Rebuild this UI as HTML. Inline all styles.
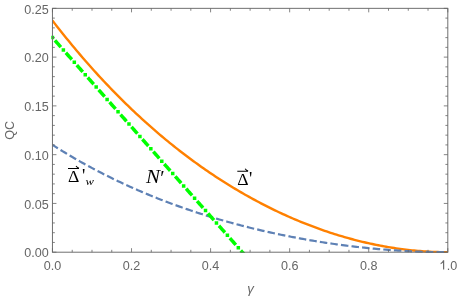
<!DOCTYPE html>
<html><head><meta charset="utf-8"><style>
html,body{margin:0;padding:0;background:#fff;}
svg{display:block;will-change:transform;}
text{font-family:"Liberation Sans",sans-serif;font-size:13.2px;fill:#666;}
.s{font-family:"Liberation Serif",serif;font-size:18.7px;fill:#000;}
</style></head><body>
<svg width="458" height="298" viewBox="0 0 458 298">
<rect width="458" height="298" fill="#fff"/>
<defs><clipPath id="c"><rect x="52.45" y="8.35" width="395.35" height="244.65"/></clipPath><clipPath id="c2"><rect x="51.25" y="8.35" width="397.35" height="244.65"/></clipPath></defs>
<g clip-path="url(#c)" fill="none">
<path d="M52.45,20.54 L54.44,23.12 L56.42,25.67 L58.41,28.21 L60.40,30.73 L62.38,33.22 L64.37,35.70 L66.36,38.16 L68.34,40.61 L70.33,43.03 L72.32,45.43 L74.30,47.82 L76.29,50.19 L78.28,52.54 L80.26,54.87 L82.25,57.19 L84.24,59.48 L86.22,61.76 L88.21,64.02 L90.20,66.27 L92.18,68.49 L94.17,70.70 L96.16,72.90 L98.14,75.07 L100.13,77.23 L102.12,79.37 L104.10,81.50 L106.09,83.60 L108.08,85.70 L110.06,87.77 L112.05,89.83 L114.04,91.87 L116.02,93.90 L118.01,95.91 L120.00,97.90 L121.98,99.88 L123.97,101.84 L125.96,103.79 L127.94,105.72 L129.93,107.64 L131.92,109.54 L133.90,111.42 L135.89,113.29 L137.88,115.14 L139.86,116.98 L141.85,118.81 L143.84,120.62 L145.82,122.41 L147.81,124.19 L149.80,125.95 L151.78,127.70 L153.77,129.44 L155.76,131.16 L157.74,132.87 L159.73,134.56 L161.72,136.24 L163.70,137.90 L165.69,139.55 L167.68,141.18 L169.66,142.81 L171.65,144.41 L173.64,146.01 L175.62,147.59 L177.61,149.15 L179.60,150.70 L181.58,152.24 L183.57,153.77 L185.56,155.28 L187.54,156.78 L189.53,158.27 L191.52,159.74 L193.50,161.20 L195.49,162.64 L197.48,164.07 L199.46,165.49 L201.45,166.90 L203.44,168.29 L205.42,169.68 L207.41,171.04 L209.40,172.40 L211.38,173.74 L213.37,175.07 L215.36,176.39 L217.34,177.70 L219.33,178.99 L221.32,180.27 L223.30,181.54 L225.29,182.79 L227.28,184.04 L229.26,185.27 L231.25,186.49 L233.24,187.69 L235.22,188.89 L237.21,190.07 L239.20,191.24 L241.18,192.40 L243.17,193.55 L245.16,194.68 L247.14,195.81 L249.13,196.92 L251.12,198.02 L253.11,199.11 L255.09,200.18 L257.08,201.25 L259.07,202.30 L261.05,203.35 L263.04,204.38 L265.03,205.40 L267.01,206.40 L269.00,207.40 L270.99,208.38 L272.97,209.36 L274.96,210.32 L276.95,211.27 L278.93,212.21 L280.92,213.14 L282.91,214.06 L284.89,214.96 L286.88,215.86 L288.87,216.74 L290.85,217.61 L292.84,218.48 L294.83,219.33 L296.81,220.17 L298.80,220.99 L300.79,221.81 L302.77,222.62 L304.76,223.42 L306.75,224.20 L308.73,224.97 L310.72,225.74 L312.71,226.49 L314.69,227.23 L316.68,227.96 L318.67,228.68 L320.65,229.39 L322.64,230.09 L324.63,230.77 L326.61,231.45 L328.60,232.12 L330.59,232.77 L332.57,233.42 L334.56,234.05 L336.55,234.67 L338.53,235.28 L340.52,235.88 L342.51,236.47 L344.49,237.05 L346.48,237.62 L348.47,238.18 L350.45,238.73 L352.44,239.26 L354.43,239.79 L356.41,240.31 L358.40,240.81 L360.39,241.30 L362.37,241.79 L364.36,242.26 L366.35,242.72 L368.33,243.17 L370.32,243.61 L372.31,244.04 L374.29,244.46 L376.28,244.87 L378.27,245.26 L380.25,245.65 L382.24,246.02 L384.23,246.39 L386.21,246.74 L388.20,247.08 L390.19,247.42 L392.17,247.74 L394.16,248.05 L396.15,248.34 L398.13,248.63 L400.12,248.91 L402.11,249.18 L404.09,249.43 L406.08,249.67 L408.07,249.91 L410.05,250.13 L412.04,250.34 L414.03,250.54 L416.01,250.73 L418.00,250.90 L419.99,251.07 L421.97,251.22 L423.96,251.37 L425.95,251.50 L427.93,251.62 L429.92,251.73 L431.91,251.83 L433.89,251.92 L435.88,251.99 L437.87,252.05 L439.85,252.11 L441.84,252.15 L443.83,252.18 L445.81,252.19 L447.80,252.20" stroke="#ff8000" stroke-width="2.4"/>
<path d="M52.45,144.91 L54.44,146.17 L56.42,147.42 L58.41,148.66 L60.40,149.89 L62.38,151.10 L64.37,152.31 L66.36,153.51 L68.34,154.69 L70.33,155.87 L72.32,157.04 L74.30,158.19 L76.29,159.33 L78.28,160.47 L80.26,161.59 L82.25,162.71 L84.24,163.81 L86.22,164.91 L88.21,165.99 L90.20,167.07 L92.18,168.14 L94.17,169.19 L96.16,170.24 L98.14,171.28 L100.13,172.31 L102.12,173.32 L104.10,174.33 L106.09,175.34 L108.08,176.33 L110.06,177.31 L112.05,178.28 L114.04,179.25 L116.02,180.21 L118.01,181.16 L120.00,182.09 L121.98,183.03 L123.97,183.95 L125.96,184.86 L127.94,185.77 L129.93,186.67 L131.92,187.55 L133.90,188.44 L135.89,189.31 L137.88,190.17 L139.86,191.03 L141.85,191.88 L143.84,192.72 L145.82,193.55 L147.81,194.38 L149.80,195.20 L151.78,196.01 L153.77,196.81 L155.76,197.61 L157.74,198.40 L159.73,199.18 L161.72,199.95 L163.70,200.72 L165.69,201.48 L167.68,202.23 L169.66,202.97 L171.65,203.71 L173.64,204.44 L175.62,205.17 L177.61,205.88 L179.60,206.59 L181.58,207.30 L183.57,207.99 L185.56,208.68 L187.54,209.37 L189.53,210.04 L191.52,210.71 L193.50,211.38 L195.49,212.03 L197.48,212.68 L199.46,213.33 L201.45,213.96 L203.44,214.60 L205.42,215.22 L207.41,215.84 L209.40,216.45 L211.38,217.06 L213.37,217.66 L215.36,218.26 L217.34,218.84 L219.33,219.43 L221.32,220.00 L223.30,220.58 L225.29,221.14 L227.28,221.70 L229.26,222.25 L231.25,222.80 L233.24,223.34 L235.22,223.88 L237.21,224.41 L239.20,224.93 L241.18,225.45 L243.17,225.97 L245.16,226.48 L247.14,226.98 L249.13,227.48 L251.12,227.97 L253.11,228.46 L255.09,228.94 L257.08,229.41 L259.07,229.88 L261.05,230.35 L263.04,230.81 L265.03,231.26 L267.01,231.71 L269.00,232.16 L270.99,232.60 L272.97,233.03 L274.96,233.46 L276.95,233.88 L278.93,234.30 L280.92,234.71 L282.91,235.12 L284.89,235.53 L286.88,235.93 L288.87,236.32 L290.85,236.71 L292.84,237.09 L294.83,237.47 L296.81,237.84 L298.80,238.21 L300.79,238.58 L302.77,238.94 L304.76,239.29 L306.75,239.64 L308.73,239.98 L310.72,240.32 L312.71,240.66 L314.69,240.99 L316.68,241.31 L318.67,241.63 L320.65,241.95 L322.64,242.26 L324.63,242.57 L326.61,242.87 L328.60,243.17 L330.59,243.46 L332.57,243.74 L334.56,244.03 L336.55,244.30 L338.53,244.58 L340.52,244.85 L342.51,245.11 L344.49,245.37 L346.48,245.62 L348.47,245.87 L350.45,246.12 L352.44,246.36 L354.43,246.59 L356.41,246.82 L358.40,247.05 L360.39,247.27 L362.37,247.49 L364.36,247.70 L366.35,247.91 L368.33,248.11 L370.32,248.31 L372.31,248.50 L374.29,248.69 L376.28,248.87 L378.27,249.05 L380.25,249.22 L382.24,249.39 L384.23,249.56 L386.21,249.72 L388.20,249.87 L390.19,250.02 L392.17,250.17 L394.16,250.31 L396.15,250.44 L398.13,250.57 L400.12,250.70 L402.11,250.82 L404.09,250.93 L406.08,251.04 L408.07,251.15 L410.05,251.25 L412.04,251.35 L414.03,251.44 L416.01,251.52 L418.00,251.61 L419.99,251.68 L421.97,251.75 L423.96,251.82 L425.95,251.88 L427.93,251.93 L429.92,251.98 L431.91,252.03 L433.89,252.07 L435.88,252.10 L437.87,252.13 L439.85,252.16 L441.84,252.18 L443.83,252.19 L445.81,252.20 L447.80,252.20" stroke="#5e81b5" stroke-width="2.2" stroke-dasharray="5.3 5.35" stroke-linecap="square"/>
</g>
<path clip-path="url(#c2)" fill="none" d="M52.45,37.61 L53.42,38.71 L54.40,39.81 L55.37,40.91 L56.34,42.01 L57.32,43.11 L58.29,44.21 L59.26,45.31 L60.24,46.41 L61.21,47.51 L62.18,48.61 L63.16,49.71 L64.13,50.81 L65.11,51.92 L66.08,53.02 L67.05,54.12 L68.03,55.22 L69.00,56.32 L69.97,57.42 L70.95,58.52 L71.92,59.62 L72.89,60.72 L73.87,61.82 L74.84,62.92 L75.81,64.02 L76.79,65.12 L77.76,66.22 L78.73,67.32 L79.71,68.42 L80.68,69.52 L81.65,70.62 L82.63,71.72 L83.60,72.82 L84.57,73.92 L85.55,75.02 L86.52,76.12 L87.50,77.22 L88.47,78.32 L89.44,79.42 L90.42,80.52 L91.39,81.62 L92.36,82.72 L93.34,83.82 L94.31,84.92 L95.28,86.02 L96.26,87.12 L97.23,88.22 L98.20,89.32 L99.18,90.42 L100.15,91.52 L101.12,92.62 L102.10,93.72 L103.07,94.82 L104.04,95.92 L105.02,97.02 L105.99,98.13 L106.96,99.23 L107.94,100.33 L108.91,101.43 L109.89,102.53 L110.86,103.63 L111.83,104.73 L112.81,105.83 L113.78,106.93 L114.75,108.03 L115.73,109.13 L116.70,110.23 L117.67,111.33 L118.65,112.43 L119.62,113.53 L120.59,114.63 L121.57,115.73 L122.54,116.83 L123.51,117.93 L124.49,119.03 L125.46,120.13 L126.43,121.23 L127.41,122.33 L128.38,123.43 L129.35,124.53 L130.33,125.63 L131.30,126.73 L132.27,127.83 L133.25,128.93 L134.22,130.03 L135.20,131.13 L136.17,132.23 L137.14,133.33 L138.12,134.43 L139.09,135.53 L140.06,136.63 L141.04,137.73 L142.01,138.83 L142.98,139.93 L143.96,141.03 L144.93,142.13 L145.90,143.23 L146.88,144.33 L147.85,145.44 L148.82,146.54 L149.80,147.64 L150.77,148.74 L151.74,149.84 L152.72,150.94 L153.69,152.04 L154.66,153.14 L155.64,154.24 L156.61,155.34 L157.59,156.44 L158.56,157.54 L159.53,158.64 L160.51,159.74 L161.48,160.84 L162.45,161.94 L163.43,163.04 L164.40,164.14 L165.37,165.24 L166.35,166.34 L167.32,167.44 L168.29,168.54 L169.27,169.64 L170.24,170.74 L171.21,171.84 L172.19,172.94 L173.16,174.04 L174.13,175.14 L175.11,176.24 L176.08,177.34 L177.05,178.44 L178.03,179.54 L179.00,180.64 L179.98,181.74 L180.95,182.84 L181.92,183.94 L182.90,185.04 L183.87,186.14 L184.84,187.24 L185.82,188.34 L186.79,189.44 L187.76,190.54 L188.74,191.65 L189.71,192.75 L190.68,193.85 L191.66,194.95 L192.63,196.05 L193.60,197.15 L194.58,198.25 L195.55,199.35 L196.52,200.45 L197.50,201.55 L198.47,202.65 L199.44,203.75 L200.42,204.85 L201.39,205.95 L202.37,207.05 L203.34,208.15 L204.31,209.25 L205.29,210.35 L206.26,211.45 L207.23,212.55 L208.21,213.65 L209.18,214.75 L210.15,215.85 L211.13,216.95 L212.10,218.05 L213.07,219.15 L214.05,220.25 L215.02,221.35 L215.99,222.45 L216.97,223.55 L217.94,224.65 L218.91,225.75 L219.89,226.85 L220.86,227.95 L221.83,229.05 L222.81,230.15 L223.78,231.25 L224.76,232.35 L225.73,233.45 L226.70,234.55 L227.68,235.65 L228.65,236.75 L229.62,237.86 L230.60,238.96 L231.57,240.06 L232.54,241.16 L233.52,242.26 L234.49,243.36 L235.46,244.46 L236.44,245.56 L237.41,246.66 L238.38,247.76 L239.36,248.86 L240.33,249.96 L241.30,251.06 L242.28,252.16 L243.25,253.26 L244.22,254.36 L245.20,255.46 L246.17,256.56" stroke="#00ff00" stroke-width="3.5" stroke-dasharray="0 5.5 5.5 5.5" stroke-linecap="square"/>
<rect x="52.45" y="8.35" width="395.35" height="243.85" fill="none" stroke="#707070" stroke-width="1"/>
<path d="M52.45,252.2 v-4 M52.45,8.35 v4 M72.22,252.2 v-2.4 M72.22,8.35 v2.4 M91.99,252.2 v-2.4 M91.99,8.35 v2.4 M111.75,252.2 v-2.4 M111.75,8.35 v2.4 M131.52,252.2 v-4 M131.52,8.35 v4 M151.29,252.2 v-2.4 M151.29,8.35 v2.4 M171.06,252.2 v-2.4 M171.06,8.35 v2.4 M190.82,252.2 v-2.4 M190.82,8.35 v2.4 M210.59,252.2 v-4 M210.59,8.35 v4 M230.36,252.2 v-2.4 M230.36,8.35 v2.4 M250.12,252.2 v-2.4 M250.12,8.35 v2.4 M269.89,252.2 v-2.4 M269.89,8.35 v2.4 M289.66,252.2 v-4 M289.66,8.35 v4 M309.43,252.2 v-2.4 M309.43,8.35 v2.4 M329.20,252.2 v-2.4 M329.20,8.35 v2.4 M348.96,252.2 v-2.4 M348.96,8.35 v2.4 M368.73,252.2 v-4 M368.73,8.35 v4 M388.50,252.2 v-2.4 M388.50,8.35 v2.4 M408.27,252.2 v-2.4 M408.27,8.35 v2.4 M428.03,252.2 v-2.4 M428.03,8.35 v2.4 M447.80,252.2 v-4 M447.80,8.35 v4 M52.45,252.20 h4 M447.8,252.20 h-4 M52.45,242.45 h2.4 M447.8,242.45 h-2.4 M52.45,232.69 h2.4 M447.8,232.69 h-2.4 M52.45,222.94 h2.4 M447.8,222.94 h-2.4 M52.45,213.18 h2.4 M447.8,213.18 h-2.4 M52.45,203.43 h4 M447.8,203.43 h-4 M52.45,193.68 h2.4 M447.8,193.68 h-2.4 M52.45,183.92 h2.4 M447.8,183.92 h-2.4 M52.45,174.17 h2.4 M447.8,174.17 h-2.4 M52.45,164.41 h2.4 M447.8,164.41 h-2.4 M52.45,154.66 h4 M447.8,154.66 h-4 M52.45,144.91 h2.4 M447.8,144.91 h-2.4 M52.45,135.15 h2.4 M447.8,135.15 h-2.4 M52.45,125.40 h2.4 M447.8,125.40 h-2.4 M52.45,115.64 h2.4 M447.8,115.64 h-2.4 M52.45,105.89 h4 M447.8,105.89 h-4 M52.45,96.14 h2.4 M447.8,96.14 h-2.4 M52.45,86.38 h2.4 M447.8,86.38 h-2.4 M52.45,76.63 h2.4 M447.8,76.63 h-2.4 M52.45,66.87 h2.4 M447.8,66.87 h-2.4 M52.45,57.12 h4 M447.8,57.12 h-4 M52.45,47.37 h2.4 M447.8,47.37 h-2.4 M52.45,37.61 h2.4 M447.8,37.61 h-2.4 M52.45,27.86 h2.4 M447.8,27.86 h-2.4 M52.45,18.10 h2.4 M447.8,18.10 h-2.4 M52.45,8.35 h4 M447.8,8.35 h-4" stroke="#666" stroke-width="0.8" fill="none"/>
<text transform="translate(48.7,257.40) scale(0.955,1)" text-anchor="end">0.00</text><text transform="translate(48.7,208.63) scale(0.955,1)" text-anchor="end">0.05</text><text transform="translate(48.7,159.86) scale(0.955,1)" text-anchor="end">0.10</text><text transform="translate(48.7,111.09) scale(0.955,1)" text-anchor="end">0.15</text><text transform="translate(48.7,62.32) scale(0.955,1)" text-anchor="end">0.20</text><text transform="translate(48.7,13.55) scale(0.955,1)" text-anchor="end">0.25</text>
<text transform="translate(52.45,269.6) scale(0.955,1)" text-anchor="middle">0.0</text><text transform="translate(131.52,269.6) scale(0.955,1)" text-anchor="middle">0.2</text><text transform="translate(210.59,269.6) scale(0.955,1)" text-anchor="middle">0.4</text><text transform="translate(289.66,269.6) scale(0.955,1)" text-anchor="middle">0.6</text><text transform="translate(368.73,269.6) scale(0.955,1)" text-anchor="middle">0.8</text><path d="M443.05,260.2 L444.2,260.2 L444.2,269.6 L443.05,269.6 L443.05,262.5 Q442,263.6 440.6,264.2 L440.6,263.1 Q442.3,262.1 443.05,260.2 Z" fill="#666"/><text transform="translate(446.65,269.6) scale(0.955,1)">.0</text>
<text transform="translate(14.0,130.3) rotate(-90) scale(0.955,1)" text-anchor="middle">QC</text>
<text x="250.6" y="293.4" text-anchor="middle" font-style="italic">γ</text>
<g class="s">
<text x="68.0" y="181.8" class="s" style="font-size:17.6px">Δ</text><text x="82.0" y="182.4" class="s">'</text><text transform="translate(85.5,184.7) scale(1.15,1)" class="s" style="font-size:11px;font-style:italic">w</text>
<path d="M68.0,168.45 H79.0 M76.0,166.0 Q77.2,167.6 79.0,168.3" stroke="#000" stroke-width="1.05" fill="none"/>
<text transform="translate(146.0,182.8) scale(1.17,1)" class="s" style="font-style:italic;font-size:18px">N</text><text x="160.3" y="184.6" class="s" style="font-size:20px">′</text>
<text x="237.3" y="184.7" class="s" style="font-size:17.6px">Δ</text><text x="248.9" y="185.0" class="s">'</text>
<path d="M237.3,171.2 H248.1 M245.1,168.75 Q246.3,170.35 248.1,171.05" stroke="#000" stroke-width="1.05" fill="none"/>
</g>
</svg>
</body></html>
